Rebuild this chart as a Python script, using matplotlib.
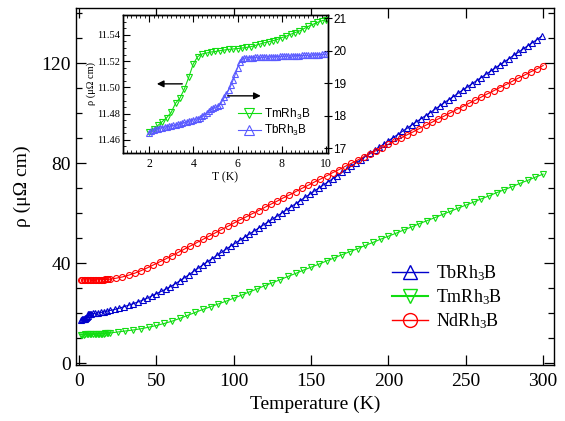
import matplotlib
matplotlib.use("Agg")
import matplotlib.pyplot as plt
from matplotlib.ticker import MultipleLocator
from matplotlib.lines import Line2D

plt.rcParams['font.family'] = ['Liberation Serif', 'DejaVu Serif']
plt.rcParams['mathtext.fontset'] = 'custom'
plt.rcParams['mathtext.default'] = 'regular'

# ---------------- main panel data ----------------
tb_T = [1.5, 2, 2.5, 3, 3.5, 4, 4.5, 5, 5.5, 6, 6.5, 7, 8, 9, 10, 12, 14, 16, 18,
        20, 23, 26, 29, 32, 35, 38, 41, 44, 47, 50, 53, 56, 59, 62, 65, 68, 71, 74, 77,
        80, 83, 86, 89, 92, 95, 98, 101, 104, 107, 110, 113, 116, 119, 122, 125, 128,
        131, 134, 137, 140, 143, 146, 149, 152, 155, 158, 161, 164, 167, 170, 173, 176,
        179, 182, 185, 188, 191, 194, 197, 200, 203, 206, 209, 212, 215, 218, 221, 224,
        227, 230, 233, 236, 239, 242, 245, 248, 251, 254, 257, 260, 263, 266, 269, 272,
        275, 278, 281, 284, 287, 290, 293, 296, 299]
tb_rho = [17.45, 17.5, 17.6, 17.7, 17.8, 17.9, 18.0, 18.3, 18.7, 19.5, 19.8, 19.8, 19.85,
          19.9, 19.95, 20.1, 20.3, 20.5, 20.8,
          21.1, 21.5, 22.0, 22.6, 23.2, 23.8, 24.5, 25.2, 26.0, 26.9, 27.8, 28.7, 29.6,
          30.6, 31.7, 32.9, 34.1, 35.4, 36.7, 38.0, 39.3, 40.6, 41.8, 43.1, 44.3, 45.6,
          46.8, 48.0, 49.2, 50.4, 51.6, 52.8, 54.0, 55.2, 56.4, 57.6, 58.8, 60.0, 61.3,
          62.5, 63.8, 65.0, 66.3, 67.5, 68.8, 70.0, 71.3, 72.5, 73.8, 75.0, 76.3, 77.6,
          78.8, 80.1, 81.3, 82.6, 83.9, 85.1, 86.4, 87.6, 88.9, 90.2, 91.4, 92.7, 93.9,
          95.2, 96.5, 97.7, 99.0, 100.2, 101.5, 102.8, 104.1, 105.4, 106.6, 107.9, 109.2,
          110.4, 111.7, 113.0, 114.2, 115.5, 116.7, 118.0, 119.3, 120.5, 121.8, 123.1,
          124.3, 125.6, 126.9, 128.1, 129.4, 130.7]

tm_T = [1.5, 2, 3, 4, 5, 6, 7, 8, 9, 10, 11, 12, 13, 14, 15, 16, 17, 18, 19, 20,
        25, 30, 35, 40, 45, 50, 55, 60, 65, 70, 75, 80, 85, 90, 95, 100, 105, 110, 115,
        120, 125, 130, 135, 140, 145, 150, 155, 160, 165, 170, 175, 180, 185, 190, 195,
        200, 205, 210, 215, 220, 225, 230, 235, 240, 245, 250, 255, 260, 265, 270, 275,
        280, 285, 290, 295, 300]
tm_rho = [11.46, 11.47, 11.48, 11.52, 11.53, 11.53, 11.53, 11.54, 11.55, 11.55, 11.6,
          11.65, 11.7, 11.75, 11.8, 11.86, 11.92, 11.98, 12.04, 12.1,
          12.5, 12.9, 13.3, 13.8, 14.4, 15.1, 15.9, 16.8, 17.9, 19.1, 20.3, 21.5, 22.6,
          23.7, 24.8, 26.0, 27.2, 28.5, 29.7, 31.0, 32.2, 33.4, 34.7, 35.9, 37.2, 38.4,
          39.6, 40.9, 42.1, 43.4, 44.6, 45.8, 47.1, 48.3, 49.6, 50.8, 52.0, 53.3, 54.5,
          55.8, 57.0, 58.2, 59.5, 60.7, 62.0, 63.2, 64.4, 65.7, 66.9, 68.2, 69.4, 70.6,
          71.9, 73.1, 74.4, 75.6]

nd_T = [1.5, 2, 3, 4, 5, 6, 7, 8, 9, 10, 11, 12, 13, 14, 15, 16, 17, 18, 19, 20,
        24, 28, 32, 36, 40, 44, 48, 52, 56, 60, 64, 68, 72, 76, 80, 84, 88, 92, 96, 100,
        104, 108, 112, 116, 120, 124, 128, 132, 136, 140, 144, 148, 152, 156, 160, 164,
        168, 172, 176, 180, 184, 188, 192, 196, 200, 204, 208, 212, 216, 220, 224, 228,
        232, 236, 240, 244, 248, 252, 256, 260, 264, 268, 272, 276, 280, 284, 288, 292,
        296, 300]
nd_rho = [33.3, 33.3, 33.3, 33.3, 33.3, 33.3, 33.3, 33.3, 33.3, 33.3, 33.35, 33.35, 33.4,
          33.4, 33.4, 33.45, 33.5, 33.5, 33.55, 33.6,
          34.0, 34.5, 35.2, 36.0, 37.0, 38.1, 39.3, 40.5, 41.7, 43.0, 44.3, 45.6, 46.9,
          48.2, 49.5, 50.8, 52.1, 53.4, 54.7, 56.0, 57.3, 58.5, 59.8, 61.0, 62.3, 63.6,
          64.8, 66.1, 67.3, 68.6, 69.9, 71.1, 72.4, 73.6, 74.9, 76.2, 77.4, 78.7, 79.9,
          81.2, 82.5, 83.7, 85.0, 86.2, 87.5, 88.8, 90.0, 91.3, 92.5, 93.8, 95.1, 96.3,
          97.6, 98.8, 100.1, 101.4, 102.6, 103.9, 105.1, 106.4, 107.7, 108.9, 110.2,
          111.4, 112.7, 114.0, 115.2, 116.5, 117.7, 119.0]

# ---------------- inset data ----------------
in_tm_T = [2.0, 2.2, 2.4, 2.6, 2.8, 3.0, 3.2, 3.4, 3.6, 3.8, 4.0, 4.2, 4.4, 4.6, 4.8,
           5.0, 5.2, 5.4, 5.6, 5.8, 6.0, 6.2, 6.4, 6.6, 6.8, 7.0, 7.2, 7.4, 7.6, 7.8,
           8.0, 8.2, 8.4, 8.6, 8.8, 9.0, 9.2, 9.4, 9.6, 9.8, 10.0]
in_tm_rho = [11.466, 11.468, 11.471, 11.474, 11.477, 11.481, 11.488, 11.492, 11.499,
             11.508, 11.518, 11.5235, 11.5255, 11.5262, 11.527, 11.5274, 11.528,
             11.5285, 11.529, 11.5293, 11.5296, 11.530, 11.5305, 11.531, 11.532,
             11.533, 11.534, 11.5348, 11.5356, 11.5365, 11.538, 11.539, 11.5405,
             11.5418, 11.543, 11.5448, 11.5465, 11.548, 11.5495, 11.5507, 11.5515]

in_tb_T = [2.0, 2.1, 2.2, 2.3, 2.4, 2.5, 2.6, 2.7, 2.8, 2.9, 3.0, 3.1, 3.2, 3.3, 3.4,
           3.5, 3.6, 3.7, 3.8, 3.9, 4.0, 4.1, 4.2, 4.3, 4.4, 4.5, 4.6, 4.7, 4.8, 4.9,
           5.0, 5.1, 5.2, 5.3, 5.4, 5.5, 5.6, 5.7, 5.8, 5.9, 6.0, 6.1, 6.2, 6.3, 6.4,
           6.5, 6.6, 6.7, 6.8, 6.9, 7.0, 7.1, 7.2, 7.3, 7.4, 7.5, 7.6, 7.7, 7.8, 7.9,
           8.0, 8.1, 8.2, 8.3, 8.4, 8.5, 8.6, 8.7, 8.8, 8.9, 9.0, 9.1, 9.2, 9.3, 9.4,
           9.5, 9.6, 9.7, 9.8, 9.9, 10.0]
in_tb_rho = [17.48, 17.52, 17.55, 17.58, 17.60, 17.62, 17.63, 17.65, 17.66, 17.67,
             17.69, 17.70, 17.71, 17.73, 17.75, 17.77, 17.79, 17.81, 17.83, 17.85,
             17.87, 17.89, 17.91, 17.94, 17.98, 18.03, 18.08, 18.14, 18.19, 18.23,
             18.26, 18.29, 18.34, 18.44, 18.56, 18.67, 18.79, 18.93, 19.10, 19.28,
             19.48, 19.64, 19.74, 19.77, 19.78, 19.785, 19.79, 19.79, 19.795, 19.80,
             19.80, 19.80, 19.805, 19.81, 19.81, 19.815, 19.815, 19.82, 19.82, 19.825,
             19.83, 19.83, 19.835, 19.84, 19.84, 19.84, 19.845, 19.85, 19.85, 19.855,
             19.855, 19.86, 19.86, 19.865, 19.87, 19.87, 19.875, 19.88, 19.885, 19.89,
             19.89]

labels = ['TbRh$_3$B', 'TmRh$_3$B', 'NdRh$_3$B']
c_blue = '#0000cc'
c_green = '#11dd11'
c_red = '#ff0000'
c_lblue = '#5a5aff'

fig = plt.figure(figsize=(5.65, 4.21), dpi=100)
ax = fig.add_axes([0.1345, 0.133, 0.846, 0.848])

ms = 4.3
ax.plot(tb_T, tb_rho, '-', color=c_blue, lw=0.8, marker='^', ms=ms, mfc='none', mew=0.8)
ax.plot(tm_T, tm_rho, '-', color=c_green, lw=0.8, marker='v', ms=ms, mfc='none', mew=0.8)
ax.plot(nd_T, nd_rho, '-', color=c_red, lw=0.8, marker='o', ms=ms, mfc='none', mew=0.8)

ax.set_xlim(-2, 307)
ax.set_ylim(-0.7, 142)
ax.xaxis.set_major_locator(MultipleLocator(50))
ax.yaxis.set_major_locator(MultipleLocator(40))
ax.yaxis.set_minor_locator(MultipleLocator(10))
ax.tick_params(which='both', direction='in', top=True, right=True, labelsize=14)
ax.tick_params(which='major', length=7, width=0.9)
ax.tick_params(which='minor', length=4, width=0.9)
ax.tick_params(axis='x', pad=6)
for s in ax.spines.values():
    s.set_linewidth(1.0)
ax.set_xlabel('Temperature (K)', fontsize=14, labelpad=4)
ax.set_ylabel('ρ (μΩ cm)', fontsize=14, labelpad=8)

handles = [Line2D([], [], color=c_blue, lw=1, marker='^', ms=10, mfc='none', mew=1),
           Line2D([], [], color=c_green, lw=1.5, marker='v', ms=10, mfc='none', mew=1),
           Line2D([], [], color=c_red, lw=1, marker='o', ms=10, mfc='none', mew=1)]
ax.legend(handles, labels, loc='upper left', bbox_to_anchor=(0.643, 0.31),
          frameon=False, fontsize=13, handlelength=2.0, handletextpad=0.4,
          labelspacing=0.25, borderpad=0)

# ---------------- inset ----------------
axi = fig.add_axes([0.2177, 0.6366, 0.3628, 0.3278])
axi2 = axi.twinx()
axi.plot(in_tm_T, in_tm_rho, '-', color=c_green, lw=0.8, marker='v', ms=4.5,
         mfc='none', mew=0.8)
axi2.plot(in_tb_T, in_tb_rho, '-', color=c_lblue, lw=0.8, marker='^', ms=4.5,
          mfc='none', mew=0.8)
axi.set_xlim(0.82, 10.09)
axi.set_ylim(11.450, 11.5552)
axi2.set_ylim(16.85, 21.1)
axi.xaxis.set_major_locator(MultipleLocator(2))
axi.xaxis.set_minor_locator(MultipleLocator(0.2))
axi.yaxis.set_major_locator(MultipleLocator(0.02))
axi.yaxis.set_minor_locator(MultipleLocator(0.005))
axi2.yaxis.set_major_locator(MultipleLocator(1))
axi.tick_params(which='both', direction='in', top=True, labelsize=7.5)
axi.tick_params(axis='y', pad=2)
axi.tick_params(axis='x', labelsize=8.5)
axi.tick_params(which='major', length=5)
axi.tick_params(which='minor', length=2.5)
axi2.tick_params(which='both', direction='inout', length=6, labelsize=8.5, pad=1)
for lab in axi2.get_yticklabels():
    lab.set_family(['Liberation Sans', 'DejaVu Sans'])
for s in list(axi.spines.values()) + list(axi2.spines.values()):
    s.set_linewidth(1.0)
axi.set_xlabel('T (K)', fontsize=8.5, labelpad=1)
axi.set_ylabel('ρ (μΩ cm)', fontsize=7.5, labelpad=1)

axi.annotate('', xy=(2.35, 11.5027), xytext=(3.5, 11.5027),
             arrowprops=dict(arrowstyle='-|>', color='black', lw=1.0,
                             mutation_scale=10, shrinkA=0, shrinkB=0))
axi2.annotate('', xy=(7.05, 18.61), xytext=(5.55, 18.61),
              arrowprops=dict(arrowstyle='-|>', color='black', lw=1.0,
                              mutation_scale=10, shrinkA=0, shrinkB=0))

ih = [Line2D([], [], color=c_green, lw=0.8, marker='v', ms=7, mfc='none', mew=0.8),
      Line2D([], [], color=c_lblue, lw=0.8, marker='^', ms=7, mfc='none', mew=0.8)]
axi2.legend(ih, ['TmRh$_3$B', 'TbRh$_3$B'], loc='upper left',
            bbox_to_anchor=(0.53, 0.38), frameon=False, handlelength=2.0,
            handletextpad=0.2, labelspacing=0.1, borderpad=0,
            prop={'family': ['Liberation Sans', 'DejaVu Sans'], 'size': 8.5})

fig.savefig('out.png', dpi=100)
